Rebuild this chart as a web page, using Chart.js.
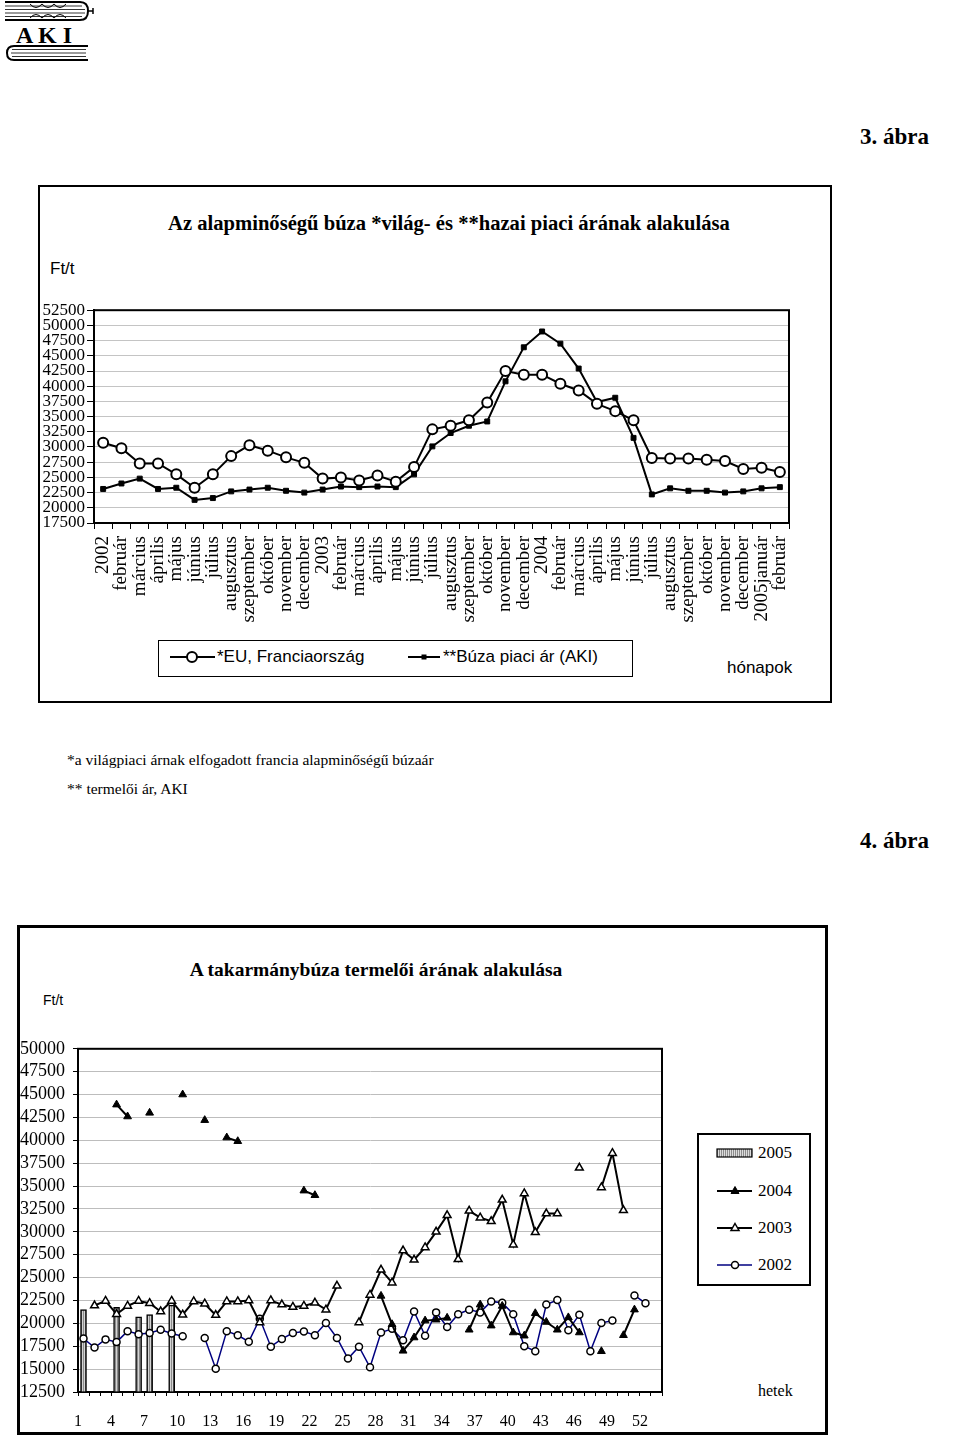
<!DOCTYPE html>
<html lang="hu">
<head>
<meta charset="utf-8">
<title>AKI - búza árak</title>
<script src="https://cdn.jsdelivr.net/npm/chart.js@4.4.1/dist/chart.umd.min.js"></script>
<style>
  body { margin: 0; background: #fff; }
  #page { position: relative; width: 960px; height: 1436px; overflow: hidden; color: #000; font-family: "Liberation Serif", serif; }
  .t { position: absolute; white-space: nowrap; line-height: 1; }
  .sans { font-family: "Liberation Sans", sans-serif; }
  .b { font-weight: bold; }
  .frame { position: absolute; box-sizing: border-box; border: 2px solid #000; }
  canvas { position: absolute; }
</style>
</head>
<body>
<div id="page">

  <!-- logo -->
  <svg style="position:absolute;left:0;top:0" width="100" height="62">
    <g stroke="#000" fill="none">
      <path d="M5 2 H80 Q88 2 88 11 Q88 20 80 20 H5" stroke-width="2"/>
      <path d="M5 6 H82 M5 9.5 H85 M5 13 H85 M5 16.5 H82" stroke-width="0.8"/>
      <path d="M88 11 H93 M93 8 V14" stroke-width="1.5"/>
      <path d="M30 4 q6 7 12 0 q6 7 12 0 q6 7 12 0 M30 18 q6 -7 12 0 q6 -7 12 0 q6 -7 12 0" stroke-width="1"/>
      <path d="M88 46 H14 Q7 46 7 53 Q7 60 14 60 H88" stroke-width="2"/>
      <path d="M12 49.5 H86 M11 53 H86 M12 56.5 H86" stroke-width="0.8"/>
    </g>
  </svg>
  <div class="t b" style="left:16px;top:23px;font-size:24px">A K I</div>

  <div class="t b" style="left:860px;top:125px;font-size:23px">3. ábra</div>

  <!-- 3. ábra -->
  <div class="frame" style="left:38px;top:185px;width:794px;height:518px"></div>
  <div class="t b" style="left:449px;top:213px;font-size:20.6px;transform:translateX(-50%)">Az alapminőségű búza *világ- és **hazai piaci árának alakulása</div>
  <div class="t sans" style="left:50px;top:260px;font-size:17px">Ft/t</div>
  <canvas id="chartMonthly" width="790" height="340" style="left:40px;top:298px"></canvas>

  <div class="frame" style="left:158px;top:640px;width:475px;height:37px;border-width:1.5px"></div>
  <svg style="position:absolute;left:158px;top:640px" width="475" height="37">
    <line x1="12" y1="17" x2="57" y2="17" stroke="#000" stroke-width="2"/>
    <circle cx="34" cy="17" r="5" fill="#fff" stroke="#000" stroke-width="2"/>
    <line x1="250" y1="17" x2="282" y2="17" stroke="#000" stroke-width="2"/>
    <rect x="263.5" y="14.5" width="5" height="5" fill="#000"/>
  </svg>
  <div class="t sans" style="left:217px;top:648px;font-size:17px">*EU, Franciaország</div>
  <div class="t sans" style="left:443px;top:648px;font-size:17px">**Búza piaci ár (AKI)</div>
  <div class="t sans" style="left:727px;top:659px;font-size:17px">hónapok</div>

  <div class="t" style="left:67px;top:752px;font-size:15.5px">*a világpiaci árnak elfogadott francia alapminőségű búzaár</div>
  <div class="t" style="left:67px;top:781px;font-size:15.5px">** termelői ár, AKI</div>

  <div class="t b" style="left:860px;top:829px;font-size:23px">4. ábra</div>

  <!-- 4. ábra -->
  <div class="frame" style="left:17px;top:925px;width:811px;height:510px;border-width:3px"></div>
  <div class="t b" style="left:376px;top:960px;font-size:19.5px;transform:translateX(-50%)">A takarmánybúza termelői árának alakulása</div>
  <div class="t sans" style="left:43px;top:993px;font-size:14px">Ft/t</div>
  <canvas id="chartWeekly" width="660" height="405" style="left:19px;top:1030px"></canvas>

  <div class="frame" style="left:697px;top:1133px;width:114px;height:153px;border-width:2px"></div>
  <svg style="position:absolute;left:697px;top:1133px" width="114" height="153">
    <defs>
      <pattern id="hatch" width="2" height="4" patternUnits="userSpaceOnUse">
        <rect width="2" height="4" fill="#dcdcdc"/>
        <rect width="1" height="4" fill="#8c8c8c"/>
      </pattern>
    </defs>
    <rect x="20" y="16" width="35" height="8" fill="url(#hatch)" stroke="#000" stroke-width="1.2"/>
    <line x1="20" y1="58" x2="55" y2="58" stroke="#000" stroke-width="2"/>
    <path d="M38 53.5 L42 60.5 L34 60.5 Z" fill="#000" stroke="#000" stroke-width="1"/>
    <line x1="20" y1="95" x2="55" y2="95" stroke="#000" stroke-width="2"/>
    <path d="M38 90.5 L42 97.5 L34 97.5 Z" fill="#fff" stroke="#000" stroke-width="1.5"/>
    <line x1="20" y1="132" x2="55" y2="132" stroke="#000080" stroke-width="1.5"/>
    <circle cx="38" cy="132" r="3.5" fill="#fff" stroke="#000" stroke-width="1.5"/>
  </svg>
  <div class="t" style="left:758px;top:1144px;font-size:17px">2005</div>
  <div class="t" style="left:758px;top:1182px;font-size:17px">2004</div>
  <div class="t" style="left:758px;top:1219px;font-size:17px">2003</div>
  <div class="t" style="left:758px;top:1256px;font-size:17px">2002</div>
  <div class="t" style="left:758px;top:1383px;font-size:16px">hetek</div>
</div>

<script>
// 3. ábra - havi árak (Ft/t)
const months = ["2002", "február", "március", "április", "május", "június", "július", "augusztus", "szeptember", "október", "november", "december",
  "2003", "február", "március", "április", "május", "június", "július", "augusztus", "szeptember", "október", "november", "december",
  "2004", "február", "március", "április", "május", "június", "július", "augusztus", "szeptember", "október", "november", "december",
  "2005január", "február"];

const euPrice = [30700, 29800, 27300, 27300, 25500, 23300, 25500, 28500, 30300, 29400, 28300, 27400,
  24800, 25000, 24500, 25300, 24300, 26700, 32900, 33500, 34400, 37300, 42500, 41900,
  41900, 40400, 39300, 37100, 35900, 34400, 28200, 28100, 28100, 27900, 27700, 26400,
  26600, 25900];

const buzaPrice = [23100, 24000, 24800, 23100, 23300, 21300, 21600, 22700, 23000, 23300, 22800, 22500,
  23000, 23500, 23400, 23500, 23400, 25500, 30100, 32300, 33500, 34200, 40800, 46400,
  49000, 47000, 42900, 37400, 38100, 31500, 22200, 23200, 22800, 22800, 22500, 22700,
  23200, 23400];

// 4. ábra - heti árak (Ft/t), null = nincs adat
const weeks = ["1", "2", "3", "4", "5", "6", "7", "8", "9", "10",
  "11", "12", "13", "14", "15", "16", "17", "18", "19", "20",
  "21", "22", "23", "24", "25", "26", "27", "28", "29", "30",
  "31", "32", "33", "34", "35", "36", "37", "38", "39", "40",
  "41", "42", "43", "44", "45", "46", "47", "48", "49", "50",
  "51", "52", "53"];

const y2005 = [21500, null, null, 21750, null, 20700, 20950, null, 22000, null,
  null, null, null, null, null, null, null, null, null, null,
  null, null, null, null, null, null, null, null, null, null,
  null, null, null, null, null, null, null, null, null, null,
  null, null, null, null, null, null, null, null, null, null,
  null, null, null];

const y2004 = [null, null, null, 43900, 42600, null, 43000, null, null, 45000,
  null, 42200, null, 40300, 39900, null, null, null, null, null,
  34500, 34000, null, null, null, null, null, 23000, 19900, 17000,
  18450, 20300, 20400, 20600, null, 19300, 22050, 19750, 21900, 19000,
  18650, 21100, 20150, 19300, 20650, 19000, null, 16950, null, 18700,
  21500, null, null];

const y2003 = [null, 21950, 22450, 21000, 21900, 22450, 22200, 21300, 22450, 20950,
  22400, 22150, 20900, 22400, 22400, 22500, 20100, 22500, 22050, 21800,
  21900, 22250, 21500, 24100, null, 20100, 23100, 25850, 24450, 27950,
  26950, 28300, 30000, 31800, 27000, 32300, 31550, 31150, 33500, 28600,
  34200, 29950, 32000, 32000, null, 37000, null, 34850, 38600, 32350,
  null, null, null];

const y2002 = [18350, 17350, 18250, 17950, 19150, 18800, 18950, 19300, 18900, 18600,
  null, 18400, 15050, 19150, 18700, 18000, 20500, 17450, 18300, 18950,
  19100, 18700, 20050, 18400, 16150, 17450, 15200, 19000, 19400, 18150,
  21300, 18650, 21200, 19600, 21000, 21500, 21200, 22400, 22250, 21000,
  17500, 16950, 22050, 22550, 19250, 20950, 16950, 20050, 20300, null,
  23050, 22200, null];

Chart.defaults.font.family = "Liberation Serif";
Chart.defaults.color = "#000";

// keret a rajzterület körül
const plotFrame = {
  id: "plotFrame",
  beforeDatasetsDraw(chart, args, opts) {
    const { ctx, chartArea: a } = chart;
    ctx.save();
    ctx.strokeStyle = "#000";
    ctx.lineWidth = opts.width || 2;
    ctx.strokeRect(a.left, a.top, a.right - a.left, a.bottom - a.top);
    ctx.restore();
  }
};

// ezres elválasztó nélkül
const plainNumber = (value) => String(value);

function hatchPattern() {
  const c = document.createElement("canvas");
  c.width = 2;
  c.height = 4;
  const g = c.getContext("2d");
  g.fillStyle = "#d4d4d4";
  g.fillRect(0, 0, 2, 4);
  g.fillStyle = "#8c8c8c";
  g.fillRect(0, 0, 1, 4);
  return g.createPattern(c, "repeat");
}

new Chart(document.getElementById("chartMonthly"), {
  type: "line",
  data: {
    labels: months,
    datasets: [
      {
        label: "*EU, Franciaország",
        data: euPrice,
        borderColor: "#000",
        borderWidth: 2,
        pointStyle: "circle",
        pointRadius: 5,
        pointBackgroundColor: "#fff",
        pointBorderColor: "#000",
        pointBorderWidth: 2,
        tension: 0
      },
      {
        label: "**Búza piaci ár (AKI)",
        data: buzaPrice,
        borderColor: "#000",
        borderWidth: 2,
        pointStyle: "rect",
        pointRadius: 3.5,
        pointBackgroundColor: "#000",
        pointBorderColor: "#000",
        pointBorderWidth: 1,
        tension: 0
      }
    ]
  },
  options: {
    responsive: false,
    animation: false,
    layout: { padding: { top: 12, right: 41, left: 0, bottom: 0 } },
    plugins: { legend: { display: false }, tooltip: { enabled: false }, plotFrame: { width: 2 } },
    scales: {
      x: {
        offset: true,
        grid: { offset: true, drawOnChartArea: false, tickLength: 6, tickColor: "#000" },
        border: { color: "#000", width: 2 },
        ticks: { autoSkip: false, minRotation: 90, maxRotation: 90, padding: 7, font: { size: 19 } },
        afterFit(scale) { scale.height = 115; }
      },
      y: {
        min: 17500,
        max: 52500,
        grid: { color: "#c4c4c4", tickLength: 7, tickColor: "#000" },
        border: { color: "#000", width: 2 },
        ticks: { stepSize: 2500, autoSkip: false, padding: 2, font: { size: 17 }, callback: plainNumber },
        afterFit(scale) { scale.width = 54; }
      }
    }
  },
  plugins: [plotFrame]
});

const yMin = 12500;

new Chart(document.getElementById("chartWeekly"), {
  type: "bar",
  data: {
    labels: weeks,
    datasets: [
      {
        type: "line",
        label: "2004",
        data: y2004,
        order: 1,
        borderColor: "#000",
        borderWidth: 2,
        pointStyle: "triangle",
        pointRadius: 4.5,
        pointBackgroundColor: "#000",
        pointBorderColor: "#000",
        pointBorderWidth: 1,
        spanGaps: false,
        tension: 0
      },
      {
        type: "line",
        label: "2003",
        data: y2003,
        order: 2,
        borderColor: "#000",
        borderWidth: 2,
        pointStyle: "triangle",
        pointRadius: 4.5,
        pointBackgroundColor: "#fff",
        pointBorderColor: "#000",
        pointBorderWidth: 1.5,
        spanGaps: false,
        tension: 0
      },
      {
        type: "line",
        label: "2002",
        data: y2002,
        order: 3,
        borderColor: "#000080",
        borderWidth: 1.5,
        pointStyle: "circle",
        pointRadius: 3.5,
        pointBackgroundColor: "#fff",
        pointBorderColor: "#000",
        pointBorderWidth: 1.5,
        spanGaps: false,
        tension: 0
      },
      {
        type: "bar",
        label: "2005",
        data: y2005,
        order: 4,
        base: yMin,
        backgroundColor: hatchPattern(),
        borderColor: "#000",
        borderWidth: 1.5,
        barThickness: 6
      }
    ]
  },
  options: {
    responsive: false,
    animation: false,
    layout: { padding: { top: 17, right: 17, left: 0, bottom: 0 } },
    plugins: { legend: { display: false }, tooltip: { enabled: false }, plotFrame: { width: 2 } },
    scales: {
      x: {
        offset: true,
        grid: { offset: true, drawOnChartArea: false, tickLength: 4, tickColor: "#000" },
        border: { color: "#000", width: 2 },
        ticks: {
          autoSkip: false,
          maxRotation: 0,
          minRotation: 0,
          labelOffset: -5.5,
          padding: 16,
          font: { size: 16 },
          callback: (value, index) => (index % 3 === 0 ? weeks[index] : "")
        },
        afterFit(scale) { scale.height = 43; }
      },
      y: {
        min: yMin,
        max: 50000,
        grid: { color: "#bdbdbd", tickLength: 5, tickColor: "#000" },
        border: { color: "#000", width: 2 },
        ticks: { stepSize: 2500, autoSkip: false, padding: 8, font: { size: 18 }, callback: plainNumber },
        afterFit(scale) { scale.width = 59; }
      }
    }
  },
  plugins: [plotFrame]
});
</script>
</body>
</html>
